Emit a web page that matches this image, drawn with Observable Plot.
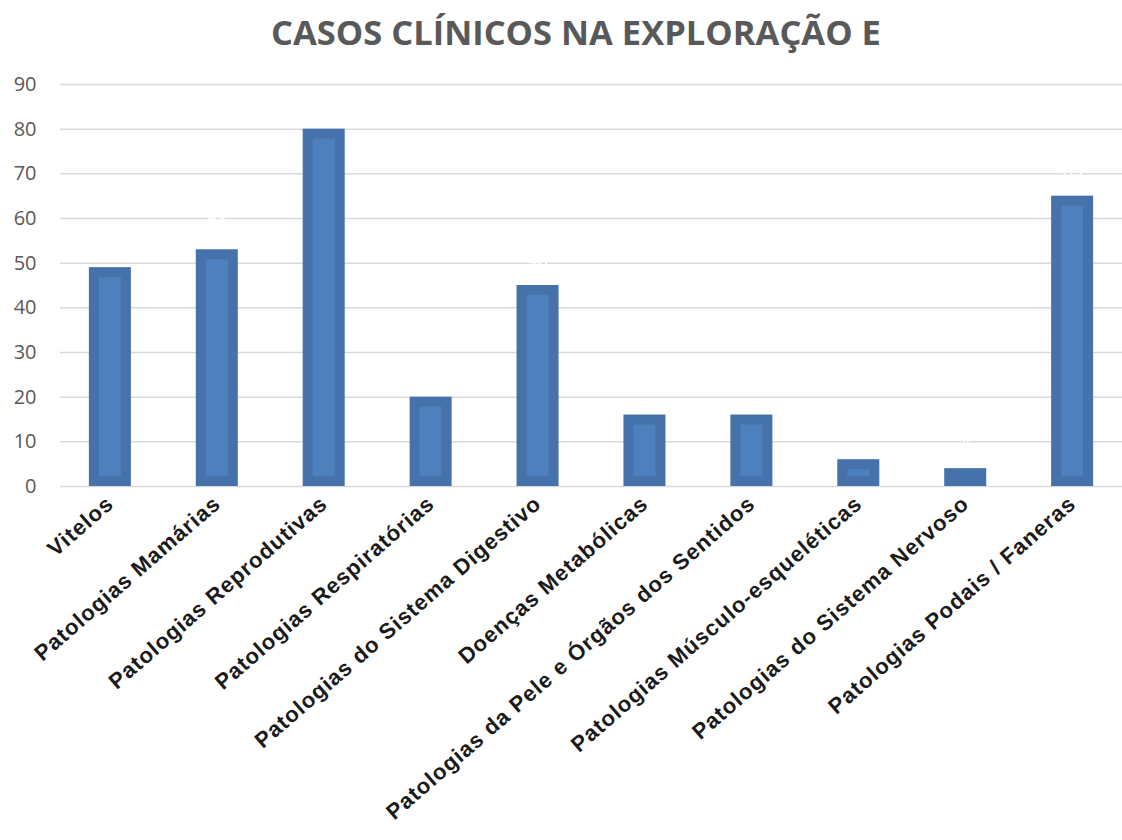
<!DOCTYPE html>
<html>
<head>
<meta charset="utf-8">
<script src="https://cdn.jsdelivr.net/npm/d3@7"></script>
<script src="https://cdn.jsdelivr.net/npm/@observablehq/plot@0.6"></script>
<style>
  html, body { margin: 0; padding: 0; background: #fff; }
  #chart { width: 1122px; }
  #title {
    height: 70px;
    box-sizing: border-box;
    padding-top: 10px;
    padding-left: 30px;
    text-align: center;
    font-family: "Open Sans", sans-serif;
    font-weight: 700;
    font-size: 34.5px;
    line-height: 44px;
    color: #595959;
  }
  svg { display: block; }
</style>
</head>
<body>
<div id="chart">
  <div id="title">CASOS CLÍNICOS NA EXPLORAÇÃO E</div>
</div>
<script>
// Categorias de casos clínicos e número de casos observados
const categorias = [
  "Vitelos",
  "Patologias Mamárias",
  "Patologias Reprodutivas",
  "Patologias Respiratórias",
  "Patologias do Sistema Digestivo",
  "Doenças Metabólicas",
  "Patologias da Pele e Órgãos dos Sentidos",
  "Patologias Músculo-esqueléticas",
  "Patologias do Sistema Nervoso",
  "Patologias Podais / Faneras"
];
const casos = [49, 53, 80, 20, 45, 16, 16, 6, 4, 65];
const yTicks = [0, 10, 20, 30, 40, 50, 60, 70, 80, 90];

const data = categorias.map((categoria, i) => ({ categoria, casos: casos[i] }));

const chart = Plot.plot({
  width: 1122,
  height: 770,
  marginTop: 14,
  marginBottom: 354,
  marginLeft: 60,
  marginRight: 0,
  style: { fontFamily: "'Liberation Sans', Arial, sans-serif", background: "#fff" },
  x: {
    domain: categorias, paddingInner: 0.607, paddingOuter: 0.27,
    align: 0.5, round: false, label: null
  },
  y: { domain: [0, 90], label: null },
  marks: [
    Plot.ruleY(yTicks, { stroke: "#d9d9d9", strokeWidth: 1.5 }),
    // outer (darker) bar
    Plot.barY(data, { x: "categoria", y: "casos", fill: "#4672ab" }),
    // inner (lighter) bar
    Plot.barY(data, {
      x: "categoria", y: "casos", fill: "#4e80bd",
      insetLeft: 10, insetRight: 10, insetTop: 10, insetBottom: 10
    }),
    // value labels
    Plot.text(data, {
      x: "categoria", y: "casos", text: (d) => String(d.casos),
      dy: -25, fill: "#ffffff", fontSize: 18
    }),
    Plot.axisY({
      ticks: yTicks, tickSize: 0, tickPadding: 24, fontSize: 20,
      fontFamily: "'Open Sans', sans-serif",
      color: "#595959", label: null
    }),
    Plot.axisX({
      tickSize: 0, tickRotate: -41, tickPadding: 14, fontSize: 22,
      fontWeight: "bold", color: "#1a1a1a", label: null
    })
  ]
});

// slightly wider tracking on the category labels
d3.select(chart).selectAll("g[aria-label='x-axis tick label']").attr("letter-spacing", "1px");

document.getElementById("chart").appendChild(chart);
</script>
</body>
</html>
